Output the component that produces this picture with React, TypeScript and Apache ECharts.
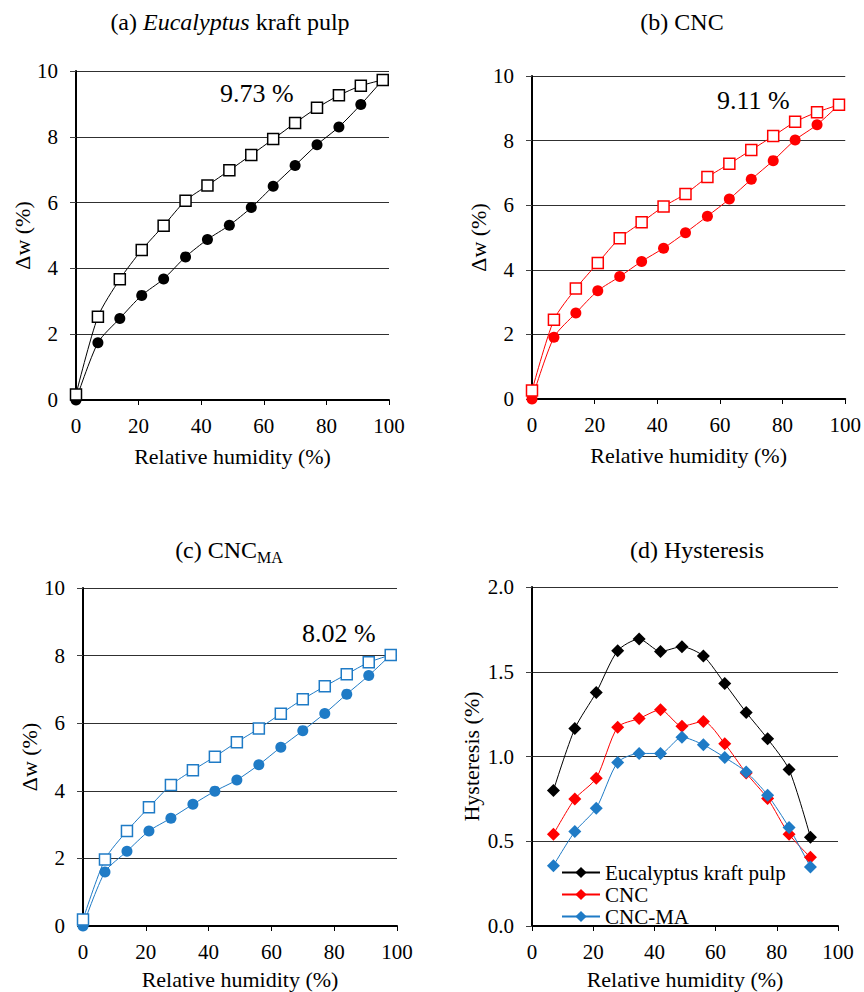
import React, { useEffect, useRef } from "react";
import * as echarts from "echarts";

const RH = [0, 7, 14, 21, 28, 35, 42, 49, 56, 63, 70, 77, 84, 91, 98];
const pulpDes = [0.17, 2.53, 3.67, 4.56, 5.3, 6.06, 6.52, 6.98, 7.45, 7.93, 8.42, 8.88, 9.26, 9.55, 9.73];
const pulpAds = [0, 1.74, 2.48, 3.18, 3.68, 4.35, 4.88, 5.31, 5.85, 6.5, 7.13, 7.76, 8.3, 8.98, 9.73];
const cncDes = [0.26, 2.45, 3.42, 4.21, 4.98, 5.47, 5.96, 6.35, 6.87, 7.28, 7.71, 8.14, 8.58, 8.88, 9.11];
const cncAds = [0, 1.91, 2.66, 3.35, 3.79, 4.26, 4.67, 5.15, 5.66, 6.19, 6.8, 7.38, 8.02, 8.49, 9.11];
const maDes = [0.19, 1.97, 2.81, 3.51, 4.17, 4.61, 5.01, 5.44, 5.84, 6.28, 6.71, 7.09, 7.45, 7.8, 8.02];
const maAds = [0, 1.6, 2.21, 2.81, 3.19, 3.6, 3.99, 4.32, 4.77, 5.29, 5.78, 6.29, 6.86, 7.41, 8.02];

const hystRH = [7, 14, 21, 28, 35, 42, 49, 56, 63, 70, 77, 84, 91];
const hystPulp = [0.8, 1.165, 1.378, 1.624, 1.693, 1.62, 1.648, 1.593, 1.43, 1.26, 1.104, 0.923, 0.524];
const hystCNC = [0.541, 0.75, 0.872, 1.173, 1.224, 1.276, 1.179, 1.207, 1.075, 0.902, 0.752, 0.541, 0.405];
const hystMA = [0.356, 0.557, 0.695, 0.965, 1.018, 1.018, 1.114, 1.069, 0.994, 0.909, 0.772, 0.581, 0.348];

const maxLabels = ["9.73 %", "9.11 %", "8.02 %"];
const legendNames = ["Eucalyptus kraft pulp", "CNC", "CNC-MA"];

const BLACK = "#000000";
const RED = "#ff0000";
const BLUE = "#1f7bc6";
const FONT = "Liberation Serif";

const zip = (xs: number[], ys: number[]) => xs.map((x, i) => [x, ys[i]]);

const grids = [
  { left: 76, top: 71, width: 313, height: 329 },
  { left: 532, top: 76, width: 315, height: 323 },
  { left: 83, top: 588, width: 314, height: 338 },
  { left: 532, top: 587, width: 306, height: 339 },
];

export default function App() {
  const ref = useRef<HTMLDivElement>(null);
  useEffect(() => {
    if (!ref.current) return;
    const chart = echarts.init(ref.current, null, { renderer: "svg" });

    const xAxes = grids.map((_, i) => ({
      type: "value",
      gridIndex: i,
      min: 0,
      max: 100,
      interval: 20,
      name: "Relative humidity (%)",
      nameLocation: "middle",
      nameGap: i < 2 ? 45 : 42,
      nameTextStyle: { fontFamily: FONT, fontSize: 22, color: "#000" },
      axisLine: { show: true, lineStyle: { color: "#000", width: 2 } },
      axisTick: { show: true, inside: false, length: 5, lineStyle: { color: "#000" } },
      axisLabel: { fontFamily: FONT, fontSize: 21, color: "#000", margin: 15 },
      splitLine: { show: false },
    }));

    const yAxes = grids.map((_, i) => {
      const isH = i === 3;
      return {
        type: "value",
        gridIndex: i,
        min: 0,
        max: isH ? 2 : 10,
        interval: isH ? 0.5 : 2,
        name: isH ? "Hysteresis (%)" : "\u0394w (%)",
        nameLocation: "middle",
        nameGap: isH ? 50 : 39,
        nameRotate: 90,
        nameTextStyle: { fontFamily: FONT, fontSize: 22, color: "#000" },
        axisLine: { show: true, lineStyle: { color: "#000", width: 2 } },
        axisTick: { show: true, inside: false, length: 6, lineStyle: { color: "#404040" } },
        axisLabel: {
          fontFamily: FONT,
          fontSize: 21,
          color: "#000",
          margin: 18,
          formatter: (v: number) => (isH ? v.toFixed(1) : String(v)),
        },
        splitLine: { show: true, lineStyle: { color: "#303030", width: 1 } },
      };
    });

    const sq = (name: string, idx: number, data: number[], color: string) => ({
      name,
      type: "line",
      xAxisIndex: idx,
      yAxisIndex: idx,
      data: zip(RH, data),
      symbol: "rect",
      symbolSize: 11,
      smooth: 0.25,
      clip: false,
      lineStyle: { color, width: 1 },
      itemStyle: { color: "#fff", borderColor: color, borderWidth: 1.5 },
      z: 3,
    });
    const ci = (name: string, idx: number, data: number[], color: string) => ({
      name,
      type: "line",
      xAxisIndex: idx,
      yAxisIndex: idx,
      data: zip(RH, data),
      symbol: "circle",
      symbolSize: 11,
      smooth: 0.25,
      clip: false,
      lineStyle: { color, width: 1 },
      itemStyle: { color, borderColor: color, borderWidth: 0 },
      z: 2,
    });
    const di = (name: string, data: number[], color: string) => ({
      name,
      type: "line",
      xAxisIndex: 3,
      yAxisIndex: 3,
      data: zip(hystRH, data),
      symbol: "diamond",
      symbolSize: 13,
      smooth: 0.25,
      clip: false,
      lineStyle: { color, width: 1 },
      itemStyle: { color },
    });

    const txt = (text: string, x: number, y: number, size: number, align = "center", rich?: any) => ({
      type: "text",
      x,
      y,
      style: {
        text,
        fontFamily: FONT,
        fontSize: size,
        fill: "#000",
        align,
        verticalAlign: "middle",
        ...(rich ? { rich } : {}),
      },
    });

    const option = {
      animation: false,
      backgroundColor: "#fff",
      grid: grids.map((g) => ({ ...g, containLabel: false })),
      xAxis: xAxes,
      yAxis: yAxes,
      legend: {
        data: legendNames,
        orient: "vertical",
        left: 561,
        top: 862,
        itemWidth: 38,
        itemHeight: 14,
        itemGap: 1,
        textStyle: { fontFamily: FONT, fontSize: 21, lineHeight: 19, color: "#000", padding: 0 },
        padding: 0,
      },
      series: [
        sq("pulp-des", 0, pulpDes, BLACK),
        ci("pulp-ads", 0, pulpAds, BLACK),
        sq("cnc-des", 1, cncDes, RED),
        ci("cnc-ads", 1, cncAds, RED),
        sq("ma-des", 2, maDes, BLUE),
        ci("ma-ads", 2, maAds, BLUE),
        di(legendNames[0], hystPulp, BLACK),
        di(legendNames[1], hystCNC, RED),
        di(legendNames[2], hystMA, BLUE),
      ],
      graphic: [
        txt("(a) {i|Eucalyptus} kraft pulp", 230, 22, 24, "center", {
          i: { fontStyle: "italic", fontFamily: FONT, fontSize: 24 },
        }),
        txt("(b) CNC", 682, 22, 24),
        txt("{n|(c) CNC}{s|MA}", 229, 550, 24, "center", {
          n: { fontFamily: FONT, fontSize: 24, verticalAlign: "bottom" },
          s: { fontFamily: FONT, fontSize: 16, verticalAlign: "bottom", padding: [0, 0, -3, 0] },
        }),
        txt("(d) Hysteresis", 697, 550, 24),
        txt(maxLabels[0], 220, 93, 26, "left"),
        txt(maxLabels[1], 717, 100, 26, "left"),
        txt(maxLabels[2], 302, 633, 26, "left"),
      ],
    };

    chart.setOption(option as any);
    return () => chart.dispose();
  }, []);

  return (
    <div
      ref={ref}
      style={{ position: "absolute", left: 0, top: 0, width: 864, height: 992, background: "#fff" }}
    />
  );
}
